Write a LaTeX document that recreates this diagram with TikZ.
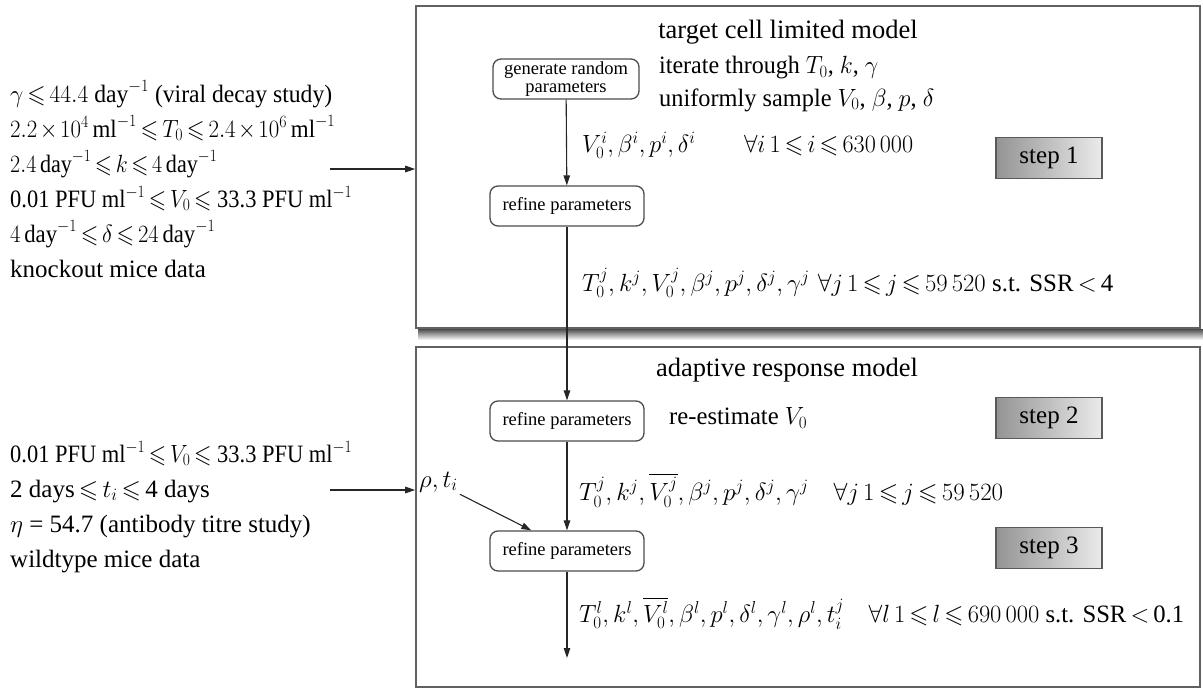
\documentclass[tikz,border=0pt]{standalone}
\usepackage{graphicx}
\usepackage{amssymb}
\usepackage{fontspec}
\setmainfont{Liberation Serif}
\usetikzlibrary{arrows.meta,calc}

% tighter spacing around relations and operators
\thickmuskip=3mu plus 1mu
\medmuskip=2mu plus 1mu

% set a line of formulae to a given width, keeping its height
\newcommand{\fitw}[2]{\resizebox{#1}{\height}{#2}}
\newcommand{\sle}{\leqslant}

\begin{document}
\begin{tikzpicture}[x=1pt,y=-1pt,
  frame/.style={draw=black!62, line width=1.6pt, inner sep=0pt},
  proc/.style={draw=black!70, line width=1.3pt, rounded corners=8pt,
    font=\fontsize{18.5}{17.5}\selectfont, align=center, inner sep=0pt,
    minimum height=40pt, minimum width=154pt},
  stepbox/.style={draw=black!65, line width=1.3pt, left color=black!42,
    right color=black!8, minimum width=106pt, minimum height=41pt,
    font=\fontsize{25}{30}\selectfont, inner sep=0pt},
  lbl/.style={font=\fontsize{25}{30}\selectfont, inner sep=0pt},
  flow/.style={draw=black!85, line width=1.1pt,
    -{Triangle[length=10pt,width=6.5pt]}},
]
\useasboundingbox (0,0) rectangle (1203,688);

% shadow under the upper frame
\shade[top color=black!70, bottom color=white] (418,329) rectangle (1203,340);

% the two model frames
\node[frame, minimum width=784pt, minimum height=322pt] (tcl) at (808,167) {};
\node[frame, minimum width=784pt, minimum height=340pt] (arm) at (808,517) {};

% process boxes
\node[proc, minimum width=146pt] (gen) at (566,79) {generate random\\parameters};
\node[proc] (r1) at (567,206) {refine parameters};
\node[proc] (r2) at (567,421) {refine parameters};
\node[proc] (r3) at (567,551) {refine parameters};

% step tags
\node[stepbox] (s1) at (1049,158) {step 1};
\node[stepbox] (s2) at (1049,418) {step 2};
\node[stepbox] (s3) at (1049,548) {step 3};

% upper frame texts
\node[lbl, font=\fontsize{26.5}{30}\selectfont] (t1) at (788,32) {target cell limited model};
\node[lbl, anchor=west] (it) at (659,68) {\fitw{219pt}{iterate through $T_0$, $k$, $\gamma$}};
\node[lbl, anchor=west] (us) at (659,100) {\fitw{275pt}{uniformly sample $V_0$, $\beta$, $p$, $\delta$}};
\node[lbl, anchor=west] (e1) at (582,145)
  {\fitw{331pt}{$V_0^i, \beta^i, p^i, \delta^i \qquad \forall i\; 1\sle i\sle 630\,000$}};
\node[lbl, anchor=west] (e2) at (582,283)
  {\fitw{531pt}{$T_0^j, k^j, V_0^j, \beta^j, p^j, \delta^j, \gamma^j\;\; \forall j\; 1\sle j\sle 59\,520$ s.t. SSR\,$<$\,4}};

% lower frame texts
\node[lbl, font=\fontsize{26.5}{30}\selectfont] (t2) at (787,370) {adaptive response model};
\node[lbl, anchor=west] (re) at (669,418) {\fitw{138pt}{re-estimate $V_0$}};
\node[lbl, anchor=west] (e3) at (579,490)
  {\fitw{424pt}{$T_0^j, k^j, \overline{V_0^j}, \beta^j, p^j, \delta^j, \gamma^j\quad \forall j\; 1\sle j\sle 59\,520$}};
\node[lbl, anchor=west] (e4) at (579,613)
  {\fitw{605pt}{$T_0^l, k^l, \overline{V_0^l}, \beta^l, p^l, \delta^l, \gamma^l, \rho^l, t_i^j\quad \forall l\; 1\sle l\sle 690\,000$ s.t. SSR\,$<$\,0.1}};
\node[lbl, anchor=west] (rho) at (419,482) {$\rho, t_i$};

% prior ranges, knockout stage
\node[lbl, anchor=base west] (c1) at (10,102) {\fitw{322pt}{$\gamma\sle 44.4\ \mathrm{day}^{-1}$ (viral decay study)}};
\node[lbl, anchor=base west] (c2) at (10,137) {\fitw{325pt}{$2.2\times10^{4}\,\mathrm{ml}^{-1}\sle T_0\sle 2.4\times10^{6}\,\mathrm{ml}^{-1}$}};
\node[lbl, anchor=base west] (c3) at (10,172) {\fitw{207pt}{$2.4\,\mathrm{day}^{-1}\sle k\sle 4\,\mathrm{day}^{-1}$}};
\node[lbl, anchor=base west] (c4) at (10,207) {\fitw{342pt}{0.01 PFU ml$^{-1}\sle V_0\sle$ 33.3 PFU ml$^{-1}$}};
\node[lbl, anchor=base west] (c5) at (10,242) {\fitw{205pt}{$4\,\mathrm{day}^{-1}\sle \delta\sle 24\,\mathrm{day}^{-1}$}};
\node[lbl, anchor=base west] (c6) at (10,277) {knockout mice data};

% prior ranges, wildtype stage
\node[lbl, anchor=base west] (w1) at (10,462) {\fitw{342pt}{0.01 PFU ml$^{-1}\sle V_0\sle$ 33.3 PFU ml$^{-1}$}};
\node[lbl, anchor=base west] (w2) at (10,497) {2 days\,$\sle t_i\sle$\,4 days};
\node[lbl, anchor=base west] (w3) at (10,532) {$\eta$ = 54.7 (antibody titre study)};
\node[lbl, anchor=base west] (w4) at (10,567) {wildtype mice data};

% connectors
\coordinate (k1) at (330,169);
\coordinate (k2) at (330,490);
\draw[flow] (k1) -- (k1 -| tcl.west);
\draw[flow] (k2) -- (k2 -| arm.west);
\draw[flow] (gen) -- (r1);
\draw[flow] (r1) -- (r2);
\draw[flow] (r2) -- (r3);
\coordinate (out) at (567,658);
\draw[flow] (r3) -- (out);
\coordinate (rin) at ($(r3.north west)!0.27!(r3.north east)$);
\draw[flow] ([xshift=2pt,yshift=-2pt]rho.south east) -- (rin);
\end{tikzpicture}
\end{document}
